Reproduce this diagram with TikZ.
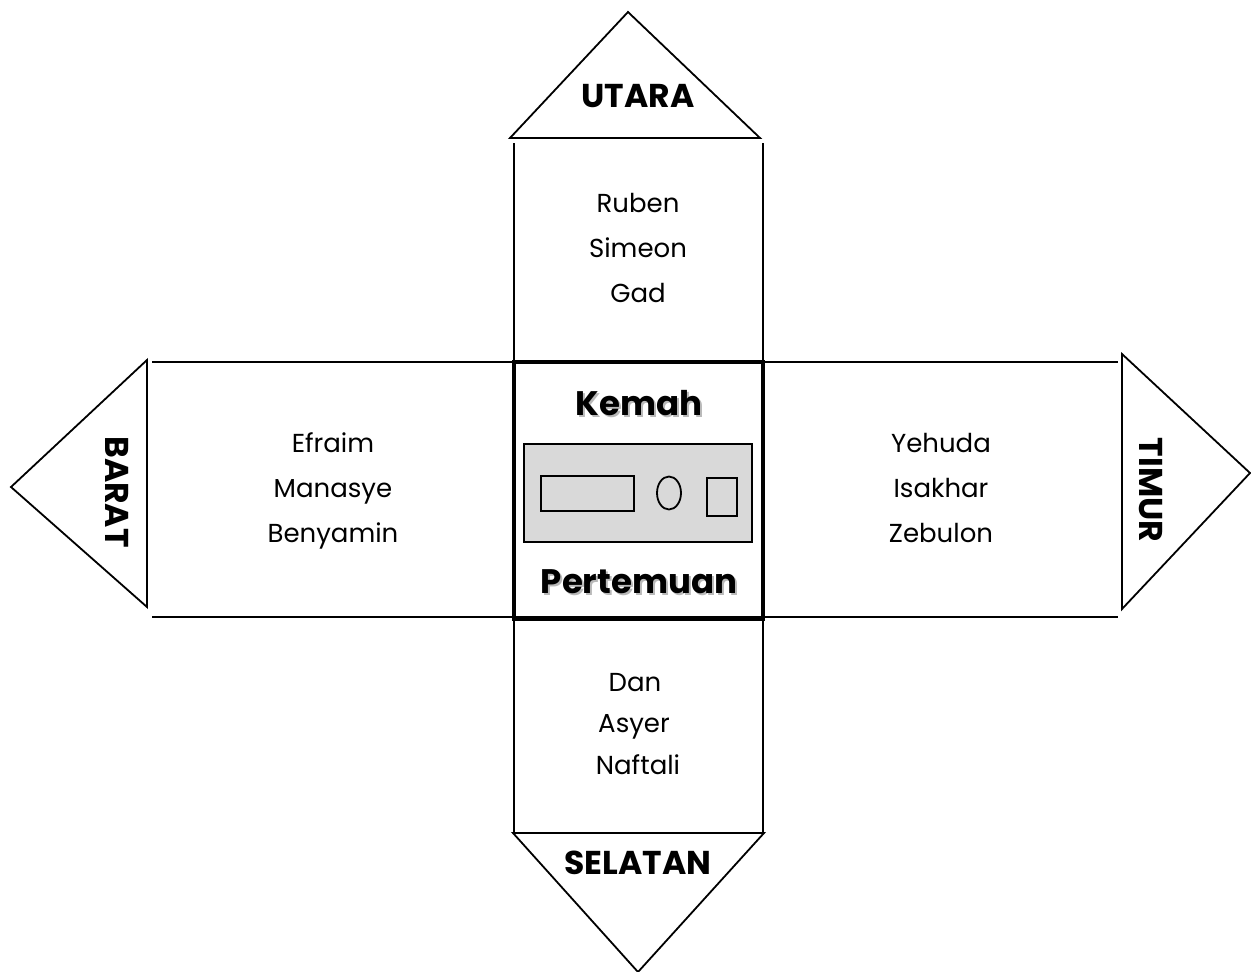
\documentclass[tikz,border=0pt]{standalone}
\usepackage{fontspec}
\setmainfont{Poppins}
\begin{document}
\begin{tikzpicture}[x=1pt,y=-1pt,
  thin line/.style={line width=1.8pt,line join=miter},
  tribe/.style={font=\fontsize{26}{30}\selectfont,inner sep=0pt,anchor=base},
  dir/.style={font=\fontsize{33}{36}\selectfont\bfseries,inner sep=0pt},
  title/.style={font=\fontsize{34}{38}\selectfont\bfseries,inner sep=0pt,anchor=base}]
\useasboundingbox (0,0) rectangle (1251,972);
% north
\draw[thin line] (510,138) -- (628,12) -- (760,138) -- cycle;
\draw[thin line] (514,143) -- (514,362) (763,143) -- (763,362);
% south
\draw[thin line] (514,617) -- (514,833) (763,617) -- (763,833);
\draw[thin line] (513,833) -- (764,833) -- (638,972) -- cycle;
% horizontal band
\draw[thin line] (152,362) -- (1118,362) (152,617) -- (1118,617);
% west
\draw[thin line] (147,360) -- (147,607) -- (11,487) -- cycle;
% east
\draw[thin line] (1122,354) -- (1122,609) -- (1250,473) -- cycle;
% centre
\draw[line width=4.5pt] (514,362) rectangle (763,619);
\draw[line width=1.8pt,fill={rgb,255:red,217;green,217;blue,217}] (524,444) rectangle (752,542);
\draw[line width=1.8pt] (541,476) rectangle (634,511);
\draw[line width=1.8pt] (669,493) ellipse [x radius=12, y radius=16.5];
\draw[line width=1.8pt] (707,478) rectangle (737,516);
% titles
\node[title,text=gray!55] at (641,417) {Kemah};
\node[title] (kemah) at (639,415) {Kemah};
\node[title,text=gray!55] at (641,595) {Pertemuan};
\node[title] (pertemuan) at (639,593) {Pertemuan};
% directions
\node[dir,anchor=base] (utara) at (638,107) {UTARA};
\node[dir,anchor=base] (selatan) at (638,874) {SELATAN};
\node[dir,rotate=-90] (barat) at (117,492) {BARAT};
\node[dir,rotate=-90] (timur) at (1151,490) {TIMUR};
% tribes
\node[tribe] (n1) at (638,212) {Ruben};
\node[tribe] (n2) at (638,257) {Simeon};
\node[tribe] (n3) at (638,302) {Gad};
\node[tribe] (w1) at (333,452) {Efraim};
\node[tribe] (w2) at (333,497) {Manasye};
\node[tribe] (w3) at (333,542) {Benyamin};
\node[tribe] (e1) at (941,452) {Yehuda};
\node[tribe] (e2) at (941,497) {Isakhar};
\node[tribe] (e3) at (941,542) {Zebulon};
\node[tribe] (s1) at (635,691) {Dan};
\node[tribe] (s2) at (634,732) {Asyer};
\node[tribe] (s3) at (638,774) {Naftali};
\end{tikzpicture}
\end{document}
